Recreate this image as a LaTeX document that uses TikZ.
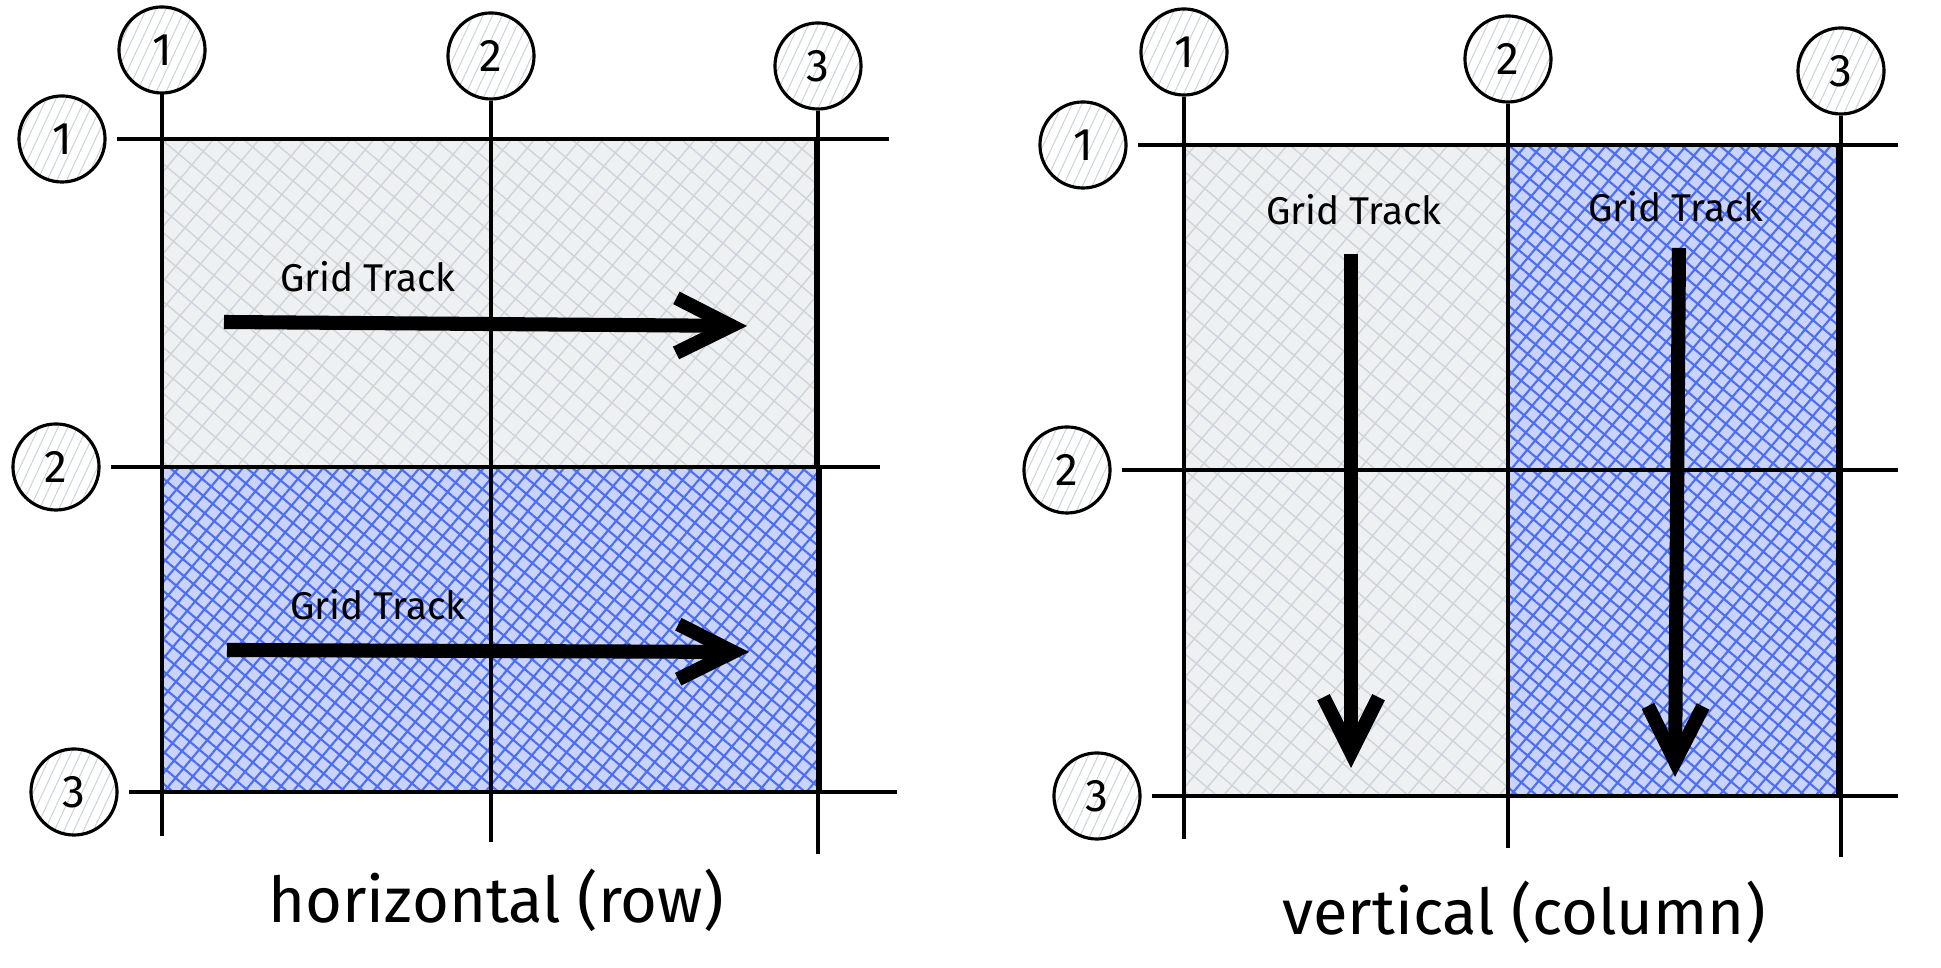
\documentclass[tikz,border=0pt]{standalone}
\usepackage{fontspec}
\setmainfont{Fira Sans}
\usetikzlibrary{arrows.meta,patterns.meta}
\definecolor{hatchblue}{HTML}{4C6EF5}
\definecolor{hatchgray}{HTML}{CED4DA}

\begin{document}
\begin{tikzpicture}[x=0.01cm,y=-0.01cm]
        \tikzset{bubble/.style={circle,draw,line width=0.9pt,minimum size=0.86cm,inner sep=0pt,
                font=\fontsize{13}{13}\selectfont,
                pattern={Lines[angle=65,distance=2.5pt,line width=0.3pt]},pattern color=hatchgray},
            gridline/.style={line width=0.9pt},
            rowline/.style={gridline,shorten <=3pt},
            graytrack/.style={fill=hatchgray!35,
                postaction={pattern={Hatch[angle=50,distance=5pt,line width=0.4pt]},pattern color=hatchgray}},
            bluetrack/.style={fill=hatchblue!30,
                postaction={pattern={Hatch[angle=50,distance=3.5pt,line width=0.6pt]},pattern color=hatchblue}},
            trackedge/.style={draw,line width=1.3pt},
            tracklabel/.style={font=\fontsize{11}{12}\selectfont},
            caption/.style={font=\fontsize{18}{20}\selectfont},
            trackarrow/.style={line width=4pt,-{Straight Barb[length=0.55cm,width=0.55cm]}}}
        \useasboundingbox (0,0) rectangle (1941,968);

        % horizontal (row)
        \path[graytrack] (162,139) rectangle (816,467);
        \path[bluetrack] (162,467) rectangle (820,792);
        \node[bubble] (lc1) at (162,50) {1};
        \node[bubble] (lc2) at (491,56) {2};
        \node[bubble] (lc3) at (818,66) {3};
        \node[bubble] (lr1) at (62,139) {1};
        \node[bubble] (lr2) at (56,467) {2};
        \node[bubble] (lr3) at (74,792) {3};
        \coordinate (lc1e) at (162,836);
        \coordinate (lc2e) at (491,842);
        \coordinate (lc3e) at (818,854);
        \coordinate (lr1e) at (889,139);
        \coordinate (lr2e) at (880,467);
        \coordinate (lr3e) at (897,792);
        \draw[gridline] (lc1) -- (lc1e);
        \draw[gridline] (lc2) -- (lc2e);
        \draw[gridline] (lc3) -- (lc3e);
        \draw[rowline] (lr1) -- (lr1e);
        \draw[rowline] (lr2) -- (lr2e);
        \draw[rowline] (lr3) -- (lr3e);
        \path[trackedge] (162,139) rectangle (816,467);
        \path[trackedge] (162,467) rectangle (820,792);
        \node[tracklabel] (lt1) at (368,277) {Grid Track};
        \node[tracklabel] (lt2) at (378,605) {Grid Track};
        \coordinate (la1s) at (224,322);
        \coordinate (la1e) at (747,326);
        \coordinate (la2s) at (227,650);
        \coordinate (la2e) at (749,652);
        \draw[trackarrow] (la1s) -- (la1e);
        \draw[trackarrow] (la2s) -- (la2e);
        \node[caption] (lcap) at (496,900) {horizontal (row)};

        % vertical (column)
        \path[graytrack] (1184,145) rectangle (1508,796);
        \path[bluetrack] (1508,145) rectangle (1838,796);
        \node[bubble] (rc1) at (1184,52) {1};
        \node[bubble] (rc2) at (1508,59) {2};
        \node[bubble] (rc3) at (1841,71) {3};
        \node[bubble] (rr1) at (1083,145) {1};
        \node[bubble] (rr2) at (1067,470) {2};
        \node[bubble] (rr3) at (1097,796) {3};
        \coordinate (rc1e) at (1184,839);
        \coordinate (rc2e) at (1508,848);
        \coordinate (rc3e) at (1841,857);
        \coordinate (rr1e) at (1898,145);
        \coordinate (rr2e) at (1898,470);
        \coordinate (rr3e) at (1898,796);
        \draw[gridline] (rc1) -- (rc1e);
        \draw[gridline] (rc2) -- (rc2e);
        \draw[gridline] (rc3) -- (rc3e);
        \draw[rowline] (rr1) -- (rr1e);
        \draw[rowline] (rr2) -- (rr2e);
        \draw[rowline] (rr3) -- (rr3e);
        \path[trackedge] (1184,145) rectangle (1508,796);
        \path[trackedge] (1508,145) rectangle (1838,796);
        \node[tracklabel] (rt1) at (1354,210) {Grid Track};
        \node[tracklabel] (rt2) at (1676,207) {Grid Track};
        \coordinate (ra1s) at (1351,254);
        \coordinate (ra1e) at (1351,768);
        \coordinate (ra2s) at (1679,248);
        \coordinate (ra2e) at (1675,777);
        \draw[trackarrow] (ra1s) -- (ra1e);
        \draw[trackarrow] (ra2s) -- (ra2e);
        \node[caption] (rcap) at (1524,912) {vertical (column)};
    \end{tikzpicture}
\end{document}
